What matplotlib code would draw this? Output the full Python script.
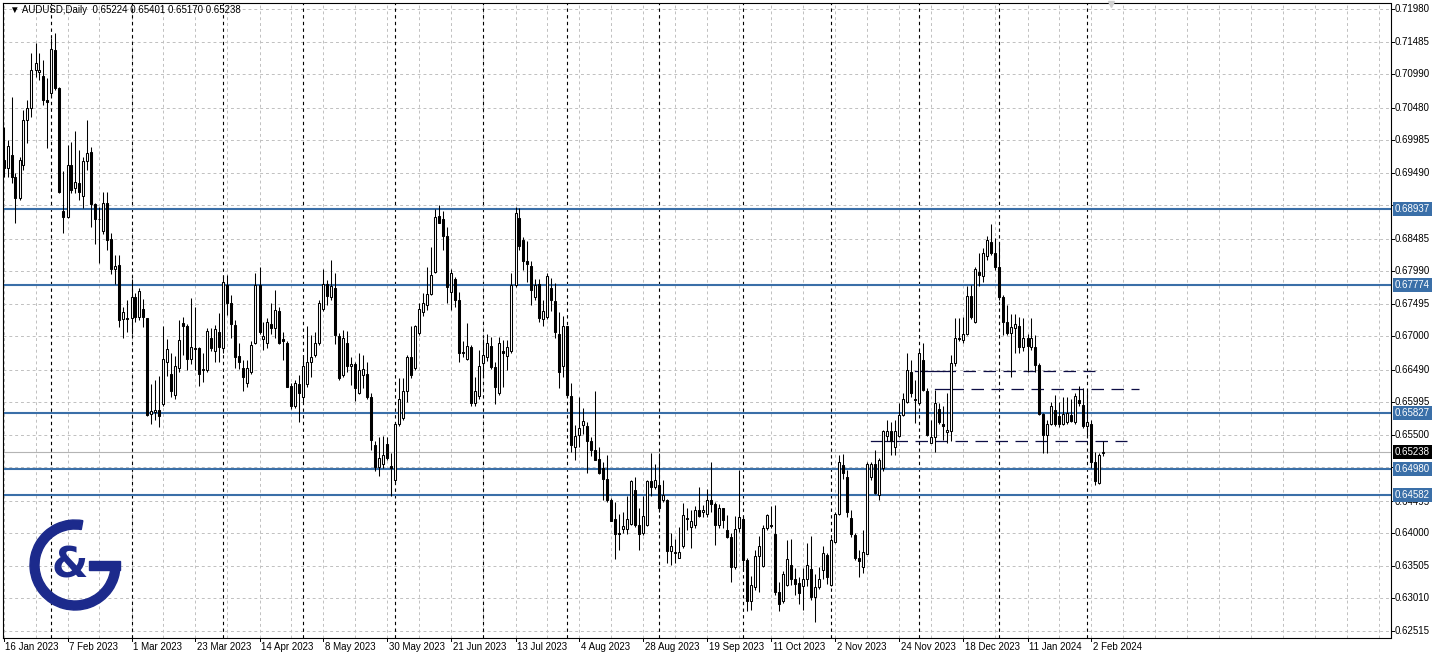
import numpy as np
import matplotlib.pyplot as plt
from matplotlib.patches import Wedge, Rectangle

# AUDUSD daily candles, 16 Jan 2023 .. 7 Feb 2024
opens = [
    0.6968, 0.6956, 0.6976, 0.6943, 0.6910, 0.6961, 0.7029, 0.7047, 0.7105, 0.7102,
    0.7096, 0.7060, 0.7070, 0.7136, 0.7078, 0.6891, 0.6882, 0.6961, 0.6925, 0.6934,
    0.6914, 0.6967, 0.6980, 0.6902, 0.6879, 0.6860, 0.6903, 0.6848, 0.6802, 0.6808,
    0.6726, 0.6728, 0.6727, 0.6759, 0.6729, 0.6741, 0.6727, 0.6582, 0.6584, 0.6587,
    0.6597, 0.6661, 0.6642, 0.6610, 0.6651, 0.6720, 0.6716, 0.6665, 0.6682, 0.6682,
    0.6648, 0.6649, 0.6697, 0.6677, 0.6706, 0.6682, 0.6778, 0.6750, 0.6717, 0.6670,
    0.6651, 0.6629, 0.6646, 0.6690, 0.6778, 0.6695, 0.6689, 0.6719, 0.6712, 0.6739,
    0.6695, 0.6690, 0.6624, 0.6594, 0.6627, 0.6608, 0.6627, 0.6661, 0.6671, 0.6690,
    0.6741, 0.6780, 0.6759, 0.6773, 0.6701, 0.6641, 0.6689, 0.6654, 0.6658, 0.6614,
    0.6641, 0.6643, 0.6607, 0.6534, 0.6501, 0.6505, 0.6536, 0.6502, 0.6481, 0.6567,
    0.6576, 0.6616, 0.6669, 0.6651, 0.6705, 0.6737, 0.6748, 0.6765, 0.6798, 0.6883,
    0.6878, 0.6852, 0.6768, 0.6787, 0.6755, 0.6676, 0.6666, 0.6683, 0.6598, 0.6609,
    0.6659, 0.6669, 0.6685, 0.6653, 0.6613, 0.6678, 0.6670, 0.6678, 0.6778, 0.6880,
    0.6847, 0.6815, 0.6807, 0.6759, 0.6779, 0.6726, 0.6729, 0.6774, 0.6753, 0.6704,
    0.6654, 0.6715, 0.6609, 0.6531, 0.6550, 0.6565, 0.6563, 0.6541, 0.6526, 0.6513,
    0.6500, 0.6482, 0.6451, 0.6421, 0.6400, 0.6406, 0.6406, 0.6414, 0.6466, 0.6413,
    0.6401, 0.6413, 0.6479, 0.6471, 0.6473, 0.6451, 0.6451, 0.6373, 0.6370, 0.6363,
    0.6380, 0.6423, 0.6410, 0.6413, 0.6436, 0.6433, 0.6430, 0.6450, 0.6445, 0.6413,
    0.6438, 0.6405, 0.6394, 0.6349, 0.6408, 0.6421, 0.6359, 0.6297, 0.6318, 0.6365,
    0.6350, 0.6408, 0.6413, 0.6399, 0.6310, 0.6297, 0.6321, 0.6352, 0.6330, 0.6324,
    0.6320, 0.6331, 0.6345, 0.6303, 0.6318, 0.6344, 0.6367, 0.6321, 0.6387, 0.6430,
    0.6504, 0.6485, 0.6423, 0.6397, 0.6362, 0.6348, 0.6369, 0.6486, 0.6505, 0.6458,
    0.6500, 0.6548, 0.6555, 0.6532, 0.6548, 0.6580, 0.6600, 0.6646, 0.6605, 0.6599,
    0.6664, 0.6616, 0.6538, 0.6546, 0.6589, 0.6566, 0.6554, 0.6555, 0.6659, 0.6697,
    0.6694, 0.6704, 0.6761, 0.6722, 0.6798, 0.6791, 0.6822, 0.6844, 0.6826, 0.6806,
    0.6759, 0.6722, 0.6705, 0.6712, 0.6716, 0.6684, 0.6697, 0.6684, 0.6683, 0.6656,
    0.6582, 0.6550, 0.6567, 0.6588, 0.6578, 0.6567, 0.6570, 0.6580, 0.6570, 0.6603,
    0.6595, 0.6563, 0.6567, 0.6508, 0.6477, 0.65224,
]
highs = [
    0.7019, 0.6999, 0.7065, 0.6948, 0.6973, 0.7044, 0.7060, 0.7131, 0.7146, 0.7131,
    0.7121, 0.7093, 0.7154, 0.7161, 0.7080, 0.6951, 0.6991, 0.6996, 0.7013, 0.6983,
    0.6973, 0.7029, 0.6988, 0.6903, 0.6897, 0.6920, 0.6920, 0.6857, 0.6824, 0.6824,
    0.6744, 0.6755, 0.6787, 0.6766, 0.6774, 0.6756, 0.6727, 0.6627, 0.6633, 0.6639,
    0.6716, 0.6695, 0.6674, 0.6670, 0.6725, 0.6729, 0.6719, 0.6758, 0.6745, 0.6683,
    0.6674, 0.6712, 0.6712, 0.6717, 0.6735, 0.6792, 0.6793, 0.6763, 0.6725, 0.6689,
    0.6664, 0.6664, 0.6692, 0.6796, 0.6805, 0.6722, 0.6727, 0.6751, 0.6770, 0.6744,
    0.6707, 0.6692, 0.6628, 0.6633, 0.6641, 0.6671, 0.6716, 0.6702, 0.6707, 0.6755,
    0.6803, 0.6786, 0.6816, 0.6796, 0.6705, 0.6709, 0.6708, 0.6669, 0.6661, 0.6674,
    0.6671, 0.6660, 0.6614, 0.6541, 0.6546, 0.6548, 0.6547, 0.6522, 0.6570, 0.6637,
    0.6636, 0.6671, 0.6716, 0.6717, 0.6750, 0.6766, 0.6806, 0.6836, 0.6893, 0.6900,
    0.6891, 0.6867, 0.6803, 0.6790, 0.6768, 0.6692, 0.6720, 0.6687, 0.6638, 0.6679,
    0.6695, 0.6703, 0.6699, 0.6660, 0.6699, 0.6694, 0.6694, 0.6796, 0.6896, 0.6895,
    0.6851, 0.6845, 0.6814, 0.6787, 0.6787, 0.6755, 0.6796, 0.6788, 0.6781, 0.6737,
    0.6731, 0.6715, 0.6628, 0.6565, 0.6608, 0.6590, 0.6570, 0.6547, 0.6616, 0.6531,
    0.6509, 0.6519, 0.6453, 0.6448, 0.6430, 0.6433, 0.6456, 0.6481, 0.6485, 0.6438,
    0.6456, 0.6481, 0.6522, 0.6506, 0.6522, 0.6481, 0.6452, 0.6401, 0.6391, 0.6410,
    0.6446, 0.6438, 0.6435, 0.6442, 0.6471, 0.6443, 0.6468, 0.6509, 0.6447, 0.6445,
    0.6439, 0.6428, 0.6401, 0.6426, 0.6497, 0.6424, 0.6362, 0.6335, 0.6375, 0.6396,
    0.6413, 0.6430, 0.6442, 0.6443, 0.6326, 0.6342, 0.6390, 0.6391, 0.6347, 0.6334,
    0.6347, 0.6385, 0.6396, 0.6338, 0.6348, 0.6381, 0.6370, 0.6392, 0.6433, 0.6519,
    0.6521, 0.6496, 0.6436, 0.6401, 0.6375, 0.6405, 0.6508, 0.6509, 0.6527, 0.6514,
    0.6557, 0.6572, 0.6570, 0.6572, 0.6598, 0.6613, 0.6675, 0.6664, 0.6633, 0.6677,
    0.6690, 0.6621, 0.6573, 0.6618, 0.6598, 0.6593, 0.6613, 0.6671, 0.6727, 0.6727,
    0.6730, 0.6776, 0.6778, 0.6806, 0.6826, 0.6834, 0.6852, 0.6871, 0.6849, 0.6842,
    0.6763, 0.6748, 0.6734, 0.6734, 0.6730, 0.6727, 0.6704, 0.6727, 0.6702, 0.6659,
    0.6583, 0.6573, 0.6600, 0.6611, 0.6600, 0.6608, 0.6608, 0.6605, 0.6613, 0.6624,
    0.6621, 0.6618, 0.6573, 0.6524, 0.6522, 0.65401,
]
lows = [
    0.6943, 0.6943, 0.6933, 0.6872, 0.6907, 0.6953, 0.6994, 0.7034, 0.7095, 0.7090,
    0.7052, 0.6986, 0.7065, 0.7075, 0.6918, 0.6857, 0.6880, 0.6918, 0.6918, 0.6907,
    0.6895, 0.6953, 0.6867, 0.6841, 0.6811, 0.6856, 0.6831, 0.6795, 0.6780, 0.6714,
    0.6697, 0.6707, 0.6704, 0.6722, 0.6725, 0.6714, 0.6578, 0.6566, 0.6572, 0.6561,
    0.6594, 0.6639, 0.6608, 0.6605, 0.6646, 0.6671, 0.6648, 0.6658, 0.6649, 0.6624,
    0.6631, 0.6646, 0.6677, 0.6661, 0.6661, 0.6675, 0.6732, 0.6697, 0.6651, 0.6650,
    0.6617, 0.6623, 0.6643, 0.6688, 0.6704, 0.6679, 0.6682, 0.6704, 0.6697, 0.6688,
    0.6664, 0.6622, 0.6589, 0.6590, 0.6570, 0.6600, 0.6623, 0.6638, 0.6669, 0.6687,
    0.6739, 0.6748, 0.6755, 0.6688, 0.6633, 0.6638, 0.6646, 0.6626, 0.6602, 0.6612,
    0.6621, 0.6604, 0.6527, 0.6495, 0.6487, 0.6500, 0.6512, 0.6456, 0.6478, 0.6563,
    0.6572, 0.6600, 0.6636, 0.6649, 0.6702, 0.6731, 0.6740, 0.6763, 0.6796, 0.6872,
    0.6831, 0.6750, 0.6740, 0.6744, 0.6660, 0.6669, 0.6664, 0.6594, 0.6593, 0.6605,
    0.6638, 0.6663, 0.6650, 0.6597, 0.6610, 0.6622, 0.6649, 0.6675, 0.6775, 0.6831,
    0.6801, 0.6782, 0.6748, 0.6755, 0.6721, 0.6715, 0.6726, 0.6739, 0.6697, 0.6621,
    0.6638, 0.6608, 0.6524, 0.6512, 0.6532, 0.6551, 0.6492, 0.6518, 0.6511, 0.6490,
    0.6450, 0.6448, 0.6418, 0.6360, 0.6375, 0.6400, 0.6399, 0.6413, 0.6409, 0.6375,
    0.6397, 0.6411, 0.6456, 0.6468, 0.6433, 0.6447, 0.6354, 0.6352, 0.6354, 0.6362,
    0.6377, 0.6405, 0.6377, 0.6408, 0.6424, 0.6424, 0.6424, 0.6433, 0.6382, 0.6408,
    0.6408, 0.6392, 0.6326, 0.6345, 0.6402, 0.6342, 0.6281, 0.6283, 0.6314, 0.6311,
    0.6348, 0.6405, 0.6408, 0.6306, 0.6281, 0.6294, 0.6319, 0.6321, 0.6306, 0.6292,
    0.6283, 0.6320, 0.6299, 0.6265, 0.6315, 0.6330, 0.6323, 0.6319, 0.6385, 0.6428,
    0.6482, 0.6425, 0.6394, 0.6359, 0.6334, 0.6340, 0.6368, 0.6481, 0.6460, 0.6450,
    0.6494, 0.6540, 0.6519, 0.6519, 0.6547, 0.6578, 0.6598, 0.6608, 0.6568, 0.6595,
    0.6616, 0.6548, 0.6537, 0.6523, 0.6566, 0.6542, 0.6538, 0.6540, 0.6654, 0.6693,
    0.6689, 0.6702, 0.6726, 0.6720, 0.6776, 0.6783, 0.6816, 0.6824, 0.6801, 0.6755,
    0.6702, 0.6702, 0.6638, 0.6675, 0.6675, 0.6678, 0.6646, 0.6679, 0.6646, 0.6580,
    0.6522, 0.6522, 0.6565, 0.6563, 0.6562, 0.6565, 0.6567, 0.6570, 0.6567, 0.6593,
    0.6560, 0.6548, 0.6499, 0.6474, 0.6475, 0.65170,
]
closes = [
    0.6956, 0.6989, 0.6943, 0.6910, 0.6968, 0.7029, 0.7047, 0.7105, 0.7116, 0.7106,
    0.7060, 0.7056, 0.7137, 0.7078, 0.6920, 0.6882, 0.6961, 0.6923, 0.6935, 0.6919,
    0.6967, 0.6979, 0.6902, 0.6878, 0.6878, 0.6903, 0.6847, 0.6802, 0.6807, 0.6724,
    0.6737, 0.6726, 0.6759, 0.6729, 0.6769, 0.6729, 0.6580, 0.6586, 0.6587, 0.6579,
    0.6665, 0.6680, 0.6616, 0.6655, 0.6694, 0.6716, 0.6665, 0.6684, 0.6681, 0.6642,
    0.6650, 0.6708, 0.6682, 0.6711, 0.6683, 0.6783, 0.6750, 0.6719, 0.6669, 0.6661,
    0.6638, 0.6651, 0.6687, 0.6778, 0.6707, 0.6700, 0.6721, 0.6712, 0.6740, 0.6690,
    0.6692, 0.6623, 0.6594, 0.6628, 0.6613, 0.6654, 0.6661, 0.6669, 0.6690, 0.6751,
    0.6780, 0.6761, 0.6776, 0.6702, 0.6636, 0.6698, 0.6654, 0.6658, 0.6621, 0.6648,
    0.6650, 0.6607, 0.6542, 0.6501, 0.6514, 0.6519, 0.6514, 0.6500, 0.6567, 0.6604,
    0.6616, 0.6669, 0.6641, 0.6716, 0.6742, 0.6750, 0.6765, 0.6793, 0.6882, 0.6873,
    0.6852, 0.6775, 0.6796, 0.6755, 0.6674, 0.6674, 0.6685, 0.6598, 0.6616, 0.6655,
    0.6671, 0.6690, 0.6653, 0.6623, 0.6690, 0.6674, 0.6684, 0.6778, 0.6888, 0.6837,
    0.6815, 0.6810, 0.6771, 0.6778, 0.6728, 0.6739, 0.6792, 0.6755, 0.6707, 0.6645,
    0.6716, 0.6611, 0.6534, 0.6548, 0.6560, 0.6571, 0.6541, 0.6526, 0.6512, 0.6492,
    0.6482, 0.6450, 0.6419, 0.6399, 0.6399, 0.6411, 0.6421, 0.6479, 0.6413, 0.6399,
    0.6426, 0.6479, 0.6471, 0.6481, 0.6438, 0.6458, 0.6373, 0.6380, 0.6371, 0.6372,
    0.6428, 0.6422, 0.6419, 0.6436, 0.6426, 0.6435, 0.6450, 0.6445, 0.6413, 0.6438,
    0.6420, 0.6394, 0.6348, 0.6406, 0.6424, 0.6359, 0.6297, 0.6321, 0.6365, 0.6381,
    0.6408, 0.6428, 0.6411, 0.6310, 0.6292, 0.6338, 0.6360, 0.6331, 0.6323, 0.6309,
    0.6331, 0.6352, 0.6303, 0.6318, 0.6330, 0.6370, 0.6334, 0.6390, 0.6430, 0.6509,
    0.6492, 0.6433, 0.6399, 0.6362, 0.6357, 0.6372, 0.6505, 0.6505, 0.6462, 0.6511,
    0.6555, 0.6555, 0.6540, 0.6555, 0.6580, 0.6604, 0.6648, 0.6614, 0.6603, 0.6675,
    0.6618, 0.6550, 0.6546, 0.6599, 0.6570, 0.6564, 0.6557, 0.6659, 0.6697, 0.6695,
    0.6704, 0.6761, 0.6729, 0.6802, 0.6793, 0.6826, 0.6846, 0.6827, 0.6806, 0.6759,
    0.6722, 0.6705, 0.6714, 0.6719, 0.6684, 0.6698, 0.6685, 0.6697, 0.6656, 0.6582,
    0.6550, 0.6566, 0.6594, 0.6567, 0.6567, 0.6582, 0.6583, 0.6571, 0.6609, 0.6598,
    0.6563, 0.6570, 0.6508, 0.6479, 0.6519, 0.65238,
]

date_labels = ['16 Jan 2023', '7 Feb 2023', '1 Mar 2023', '23 Mar 2023', '14 Apr 2023',
               '8 May 2023', '30 May 2023', '21 Jun 2023', '13 Jul 2023', '4 Aug 2023',
               '28 Aug 2023', '19 Sep 2023', '11 Oct 2023', '2 Nov 2023', '24 Nov 2023',
               '18 Dec 2023', '11 Jan 2024', '2 Feb 2024']
date_bars = [0, 16, 32, 48, 64, 80, 96, 112, 128, 144, 160, 176, 192, 208, 224, 240, 256, 272]
month_starts = [12, 32, 55, 75, 98, 120, 141, 164, 185, 207, 229, 249, 271]

price_ticks = ['0.71980', '0.71485', '0.70990', '0.70480', '0.69985', '0.69490', '0.68995',
               '0.68485', '0.67990', '0.67495', '0.67000', '0.66490', '0.65995', '0.65500',
               '0.65005', '0.64495', '0.64000', '0.63505', '0.63010', '0.62515']
hidden_ticks = ['0.68995', '0.65005']  # covered by the level boxes
levels = [0.68937, 0.67774, 0.65827, 0.64980, 0.64582]
bid = 0.65238
# dashed navy lines: (price, start bar, end bar, solid part end bar)
dash_lines = [(0.66475, 228, 273, 235), (0.66191, 233, 284, 237), (0.65404, 217, 281, 223)]

W, H = 1435, 658
L_PX, R_PX, T_PX, B_PX = 2.5, 1390.5, 2.5, 637.5
PPX = 0.00015227  # price per pixel

fig = plt.figure(figsize=(W / 100, H / 100), dpi=100)
fig.patch.set_facecolor('white')
ax = fig.add_axes([L_PX / W, 1 - B_PX / H, (R_PX - L_PX) / W, (B_PX - T_PX) / H])
ax.set_xlim((L_PX - 3.5) / 4, (R_PX - 3.5) / 4)
ax.set_ylim(0.68937 - (B_PX - 209) * PPX, 0.68937 + (209 - T_PX) * PPX)
for s in ax.spines.values():
    s.set_color('black')
    s.set_linewidth(0.8)
ax.set_xticks([])
ax.set_yticks([])

font = ['Liberation Sans', 'DejaVu Sans']
grid_c = '#c0c0c0'

# grid
for t in price_ticks:
    ax.axhline(float(t), color=grid_c, lw=0.7, ls=(0, (3, 3)), zorder=1)
for k in range(0, 347, 8):
    ax.axvline(k, color=grid_c, lw=0.7, ls=(0, (3, 3)), zorder=1)
for m in month_starts:
    ax.axvline(m, color='black', lw=0.8, ls=(0, (3, 3)), zorder=1)

# bid line
ax.axhline(bid, color='#b4b4b4', lw=0.8, zorder=1)

# support / resistance levels
blue = '#3a6fa8'
for p in levels:
    ax.axhline(p, color=blue, lw=1.5, zorder=2)

# navy dashed lines
navy = '#0d0d45'
for p, x0, x1, xs in dash_lines:
    ax.plot([x0, xs], [p, p], color=navy, lw=0.9, zorder=2)
    ax.plot([xs, x1], [p, p], color=navy, lw=0.9, ls=(0, (10, 6)), zorder=2)

# candles
o = np.array(opens)
h = np.array(highs)
lo = np.array(lows)
c = np.array(closes)
idx = np.arange(len(c))
ax.vlines(idx, lo, h, color='black', lw=0.75, zorder=3)
up = c >= o
ax.bar(idx[up], (c - o)[up], bottom=o[up], width=0.5, color='white',
       edgecolor='black', lw=0.75, zorder=4)
ax.bar(idx[~up], (o - c)[~up], bottom=c[~up], width=0.5, color='black',
       edgecolor='black', lw=0.75, zorder=4)

# header
ax.text(1.5, 0.68937 + (209 - 10) * PPX,
        '\u25bc AUDUSD,Daily  0.65224 0.65401 0.65170 0.65238',
        fontsize=7, family=font, va='center', ha='left', zorder=6)

# right price scale
ytr = ax.get_yaxis_transform()
xl = 1 + 4.5 / (R_PX - L_PX)
for t in price_ticks:
    ax.plot([1, 1 + 3 / (R_PX - L_PX)], [float(t)] * 2, color='black', lw=0.7,
            transform=ytr, clip_on=False)
    if t in hidden_ticks:
        continue
    yy = float(t)
    if t == '0.64495':
        yy -= 1.5 * PPX  # only its lower half shows under the 0.64582 box
    ax.text(xl, yy, t, transform=ytr, fontsize=7, family=font,
            va='center', ha='left', clip_on=False)
for p in levels:
    ax.text(xl, p, '%.5f' % p, transform=ytr, fontsize=7, family=font, color='white',
            va='center', ha='left', clip_on=False, zorder=7,
            bbox=dict(boxstyle='square,pad=0.2', fc=blue, ec='none'))
ax.text(xl, bid, '%.5f' % bid, transform=ytr, fontsize=7, family=font, color='white',
        va='center', ha='left', clip_on=False, zorder=7,
        bbox=dict(boxstyle='square,pad=0.2', fc='black', ec='none'))

# date labels
xtr = ax.get_xaxis_transform()
for b, lab in zip(date_bars, date_labels):
    ax.plot([b, b], [0, -3 / (B_PX - T_PX)], color='black', lw=0.7,
            transform=xtr, clip_on=False)
    ax.text(b + 0.3, -9 / (B_PX - T_PX), lab, transform=xtr, fontsize=7, family=font,
            va='center', ha='left', clip_on=False)

# chart shift marker
ax.plot([277], [0.68937 + (209 - 4) * PPX], marker='v', ms=5, color='#d0d0d0',
        zorder=5, clip_on=False)

# logo: a "G" ring open at the upper right, crossbar at mid height, "&" inside
lax = fig.add_axes([25 / W, 1 - 615 / H, 100 / W, 100 / H])
lax.set_xlim(0, 100)
lax.set_ylim(100, 0)
lax.set_aspect('equal')
lax.axis('off')
logo_c = '#1c2a8c'
lax.add_patch(Wedge((50, 50), 45, 0, 280, width=9, color=logo_c))
lax.add_patch(Rectangle((64, 45.5), 31, 9, color=logo_c))
lax.text(45, 50, '&', fontsize=30, fontweight='bold', color=logo_c, ha='center',
         va='center', family='DejaVu Sans')

fig.savefig('out.png', dpi=100)
